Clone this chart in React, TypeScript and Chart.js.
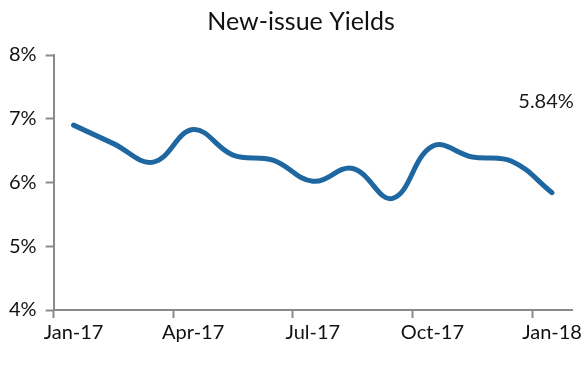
import React, { useEffect, useRef } from "react";
import { Chart, registerables } from "chart.js";

Chart.register(...registerables);

const categories = ["Jan-17","Feb-17","Mar-17","Apr-17","May-17","Jun-17","Jul-17","Aug-17","Sep-17","Oct-17","Nov-17","Dec-17","Jan-18"];
const yields = [6.90, 6.61, 6.32, 6.83, 6.43, 6.35, 6.02, 6.22, 5.75, 6.57, 6.40, 6.33, 5.84];
const yTicks = [4, 5, 6, 7, 8];
const chartTitle = "New-issue Yields";

const FONT = "Lato, 'Noto Sans', sans-serif";
const AXIS = "#8a8a8a";
const LINE = "#1f67a0";

const labelsPlugin = {
  id: "labelsPlugin",
  afterDatasetsDraw(chart: any) {
    const ctx = chart.ctx;
    const xs = chart.scales.x;
    const ys = chart.scales.y;
    const i = yields.length - 1;
    const x = xs.getPixelForValue(i);
    const y = ys.getPixelForValue(7.27);
    ctx.save();
    ctx.font = `20px ${FONT}`;
    ctx.fillStyle = "#1a1a1a";
    ctx.textAlign = "center";
    ctx.textBaseline = "middle";
    ctx.fillText(yields[i].toFixed(2) + "%", x - 6, y);
    ctx.font = `25px ${FONT}`;
    ctx.fillStyle = "#111";
    ctx.fillText(chartTitle, chart.width / 2 + 7, 22);
    ctx.restore();
  },
};

export default function App() {
  const ref = useRef<HTMLCanvasElement>(null);
  useEffect(() => {
    if (!ref.current) return;
    const chart = new Chart(ref.current, {
      type: "line",
      data: {
        labels: categories,
        datasets: [
          {
            data: yields,
            borderColor: LINE,
            borderWidth: 5,
            pointRadius: 0,
            tension: 0.4,
            fill: false,
            borderCapStyle: "round",
          },
        ],
      },
      options: {
        animation: false,
        responsive: false,
        maintainAspectRatio: false,
        layout: { padding: { left: 0, right: 16, top: 55, bottom: 21 } },
        plugins: {
          legend: { display: false },
          tooltip: { enabled: false },
          title: { display: false },
        },
        scales: {
          x: {
            type: "category",
            offset: true,
            grid: {
              offset: true,
              drawOnChartArea: false,
              tickLength: 8,
              tickWidth: 2,
              tickColor: (c: any) => (c.index % 3 === 0 ? AXIS : "rgba(0,0,0,0)"),
            },
            border: { color: AXIS, width: 2 },
            ticks: {
              autoSkip: false,
              maxRotation: 0,
              color: "#111",
              font: { family: FONT, size: 20 },
              padding: 3,
              callback: (_v: any, i: number) => (i % 3 === 0 ? categories[i] : ""),
            },
          },
          y: {
            min: yTicks[0],
            max: yTicks[yTicks.length - 1],
            afterBuildTicks: (s: any) => {
              s.ticks = yTicks.map((v) => ({ value: v }));
            },
            grid: {
              drawOnChartArea: false,
              tickLength: 8,
              tickWidth: 2,
              tickColor: AXIS,
            },
            border: { color: AXIS, width: 2 },
            ticks: {
              color: "#111",
              font: { family: FONT, size: 20 },
              padding: 9,
              callback: (v: any) => v + "%",
            },
          },
        },
      },
      plugins: [labelsPlugin],
    });
    return () => chart.destroy();
  }, []);
  return (
    <div style={{ position: "fixed", left: 0, top: 0, width: 588, height: 369, background: "#fff" }}>
      <canvas ref={ref} width={588} height={369} style={{ display: "block" }} />
    </div>
  );
}
